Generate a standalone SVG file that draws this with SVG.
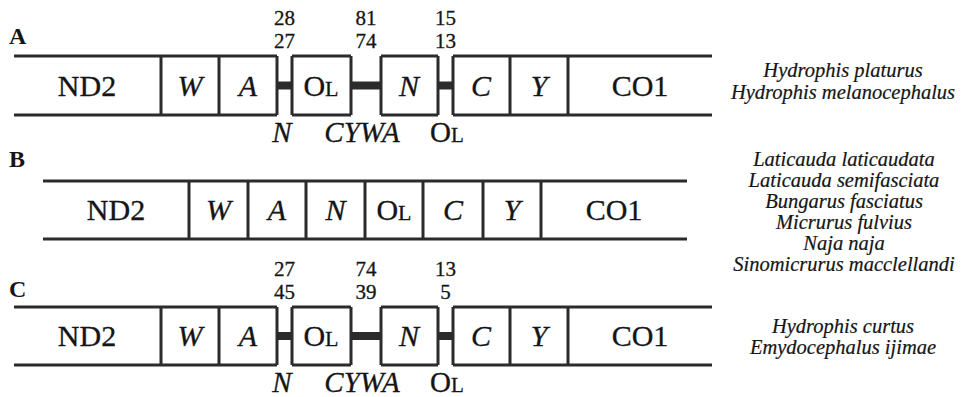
<svg xmlns="http://www.w3.org/2000/svg" width="969" height="397" viewBox="0 0 969 397">
  <style>
    .edge { stroke: #2b2b2b; stroke-width: 3; fill: none; stroke-linecap: butt; }
    .spacer { fill: #2b2b2b; }
    .t { font-family: "Liberation Serif", "Times New Roman", serif; fill: #151515; stroke: #151515; stroke-width: 0.3; text-anchor: middle; }
    .gene { font-size: 30px; }
    .trna { font-size: 30px; font-style: italic; }
    .sc { font-size: 22px; }
    .num { font-size: 21px; }
    .below { font-size: 29px; }
    .belowi { font-size: 29px; font-style: italic; }
    .panel { font-family: "Liberation Serif", "Times New Roman", serif; font-weight: bold; font-size: 24px; fill: #151515; }
    .sp { font-size: 20.5px; font-style: italic; stroke-width: 0.2; }
  </style>

  <!-- panel letters -->
  <text class="panel" x="9" y="44">A</text>
  <text class="panel" x="9" y="167">B</text>
  <text class="panel" x="9" y="297">C</text>

  <!-- ===== Row A: rearranged order with spacers ===== -->
  <g id="rowA">
    <g id="A-ND2"><path class="edge" d="M14 56H161M14 115H161M161 56V115"/><text class="t gene" x="87" y="96">ND2</text></g>
    <g id="A-W"><path class="edge" d="M161 56H219M161 115H219M219 56V115"/><text class="t trna" x="190" y="96">W</text></g>
    <g id="A-A"><path class="edge" d="M219 56H277M219 115H277M277 56V115"/><text class="t trna" x="248" y="96">A</text></g>
    <g id="A-OL"><path class="edge" d="M292 56H351M292 115H351M292 56V115M351 56V115"/><text class="t gene" x="321" y="96">O<tspan class="sc">L</tspan></text></g>
    <g id="A-N"><path class="edge" d="M381 56H438M381 115H438M381 56V115M438 56V115"/><text class="t trna" x="409" y="96">N</text></g>
    <g id="A-C"><path class="edge" d="M453 56H510M453 115H510M453 56V115M510 56V115"/><text class="t trna" x="481" y="96">C</text></g>
    <g id="A-Y"><path class="edge" d="M510 56H568M510 115H568M568 56V115"/><text class="t trna" x="539" y="96">Y</text></g>
    <g id="A-CO1"><path class="edge" d="M568 56H712M568 115H712"/><text class="t gene" x="640" y="96">CO1</text></g>
    <g id="A-counts">
      <text class="t num" x="284.5" y="25">28</text><text class="t num" x="284.5" y="48">27</text>
      <text class="t num" x="366" y="25">81</text><text class="t num" x="366" y="48">74</text>
      <text class="t num" x="445.5" y="25">15</text><text class="t num" x="445.5" y="48">13</text>
    </g>
    <g id="A-origin">
      <text class="t belowi" x="282" y="142">N</text>
      <text class="t belowi" x="362" y="142">CYWA</text>
      <text class="t below" x="447" y="142">O<tspan font-size="21px">L</tspan></text>
    </g>
    <g id="A-species">
      <text class="t sp" x="843" y="77">Hydrophis platurus</text>
      <text class="t sp" x="843" y="99">Hydrophis melanocephalus</text>
    </g>
  </g>

  <!-- ===== Row B: typical order, contiguous ===== -->
  <g id="rowB">
    <g id="B-ND2"><path class="edge" d="M43 181H189M43 239H189M189 181V239"/><text class="t gene" x="116" y="220">ND2</text></g>
    <g id="B-W"><path class="edge" d="M189 181H248M189 239H248M248 181V239"/><text class="t trna" x="218.5" y="220">W</text></g>
    <g id="B-A"><path class="edge" d="M248 181H306M248 239H306M306 181V239"/><text class="t trna" x="277" y="220">A</text></g>
    <g id="B-N"><path class="edge" d="M306 181H365M306 239H365M365 181V239"/><text class="t trna" x="335.5" y="220">N</text></g>
    <g id="B-OL"><path class="edge" d="M365 181H423M365 239H423M423 181V239"/><text class="t gene" x="394" y="220">O<tspan class="sc">L</tspan></text></g>
    <g id="B-C"><path class="edge" d="M423 181H483M423 239H483M483 181V239"/><text class="t trna" x="453" y="220">C</text></g>
    <g id="B-Y"><path class="edge" d="M483 181H541M483 239H541M541 181V239"/><text class="t trna" x="512" y="220">Y</text></g>
    <g id="B-CO1"><path class="edge" d="M541 181H687M541 239H687"/><text class="t gene" x="614" y="220">CO1</text></g>
    <g id="B-species">
      <text class="t sp" x="844" y="166">Laticauda laticaudata</text>
      <text class="t sp" x="844" y="187">Laticauda semifasciata</text>
      <text class="t sp" x="844" y="208">Bungarus fasciatus</text>
      <text class="t sp" x="844" y="229">Micrurus fulvius</text>
      <text class="t sp" x="844" y="250">Naja naja</text>
      <text class="t sp" x="844" y="271">Sinomicrurus macclellandi</text>
    </g>
  </g>

  <!-- ===== Row C: rearranged order with spacers ===== -->
  <g id="rowC">
    <g id="C-ND2"><path class="edge" d="M14 307H161M14 365H161M161 307V365"/><text class="t gene" x="87" y="346">ND2</text></g>
    <g id="C-W"><path class="edge" d="M161 307H219M161 365H219M219 307V365"/><text class="t trna" x="190" y="346">W</text></g>
    <g id="C-A"><path class="edge" d="M219 307H277M219 365H277M277 307V365"/><text class="t trna" x="248" y="346">A</text></g>
    <g id="C-OL"><path class="edge" d="M292 307H351M292 365H351M292 307V365M351 307V365"/><text class="t gene" x="321" y="346">O<tspan class="sc">L</tspan></text></g>
    <g id="C-N"><path class="edge" d="M381 307H438M381 365H438M381 307V365M438 307V365"/><text class="t trna" x="409" y="346">N</text></g>
    <g id="C-C"><path class="edge" d="M453 307H510M453 365H510M453 307V365M510 307V365"/><text class="t trna" x="481" y="346">C</text></g>
    <g id="C-Y"><path class="edge" d="M510 307H568M510 365H568M568 307V365"/><text class="t trna" x="539" y="346">Y</text></g>
    <g id="C-CO1"><path class="edge" d="M568 307H712M568 365H712"/><text class="t gene" x="640" y="346">CO1</text></g>
    <g id="C-counts">
      <text class="t num" x="284.5" y="276">27</text><text class="t num" x="284.5" y="299">45</text>
      <text class="t num" x="366" y="276">74</text><text class="t num" x="366" y="299">39</text>
      <text class="t num" x="445.5" y="276">13</text><text class="t num" x="445.5" y="299">5</text>
    </g>
    <g id="C-origin">
      <text class="t belowi" x="282" y="392">N</text>
      <text class="t belowi" x="362" y="392">CYWA</text>
      <text class="t below" x="447" y="392">O<tspan font-size="21px">L</tspan></text>
    </g>
    <g id="C-species">
      <text class="t sp" x="843" y="333">Hydrophis curtus</text>
      <text class="t sp" x="843" y="354">Emydocephalus ijimae</text>
    </g>
  </g>

  <!-- intergenic spacers joining the rearranged blocks -->
  <g id="connectors">
    <rect class="spacer" x="277" y="81.5" width="15" height="8"/>
    <rect class="spacer" x="351" y="81.5" width="30" height="8"/>
    <rect class="spacer" x="438" y="81.5" width="15" height="8"/>
    <rect class="spacer" x="277" y="332" width="15" height="8"/>
    <rect class="spacer" x="351" y="332" width="30" height="8"/>
    <rect class="spacer" x="438" y="332" width="15" height="8"/>
  </g>
</svg>
